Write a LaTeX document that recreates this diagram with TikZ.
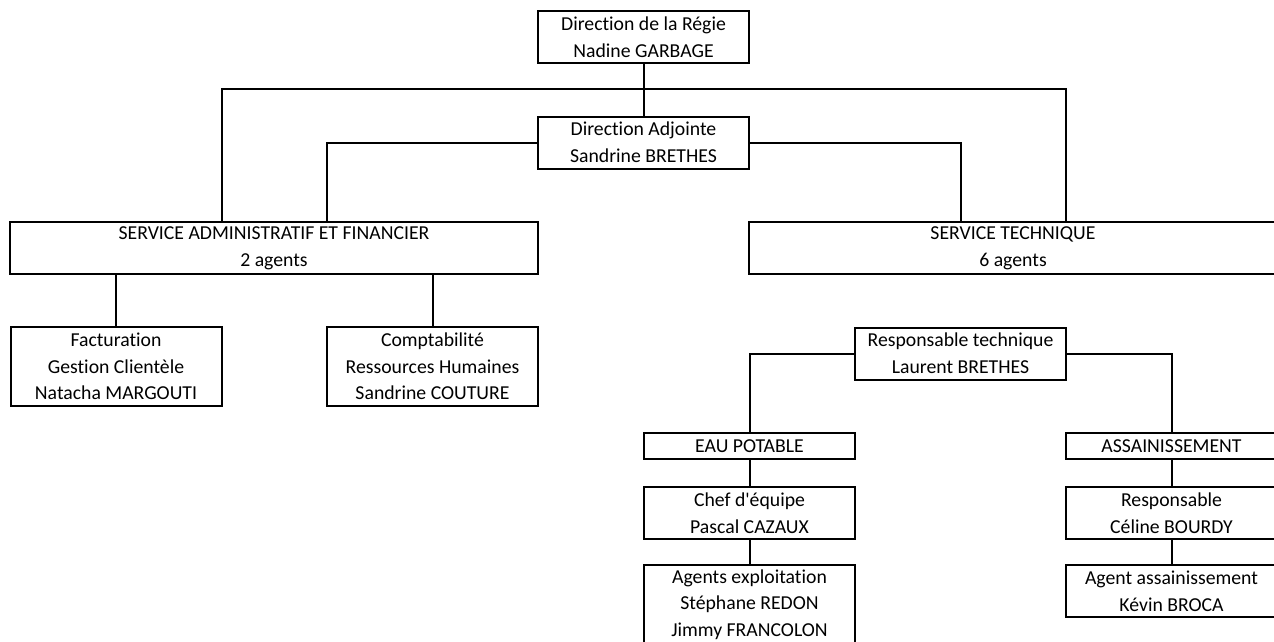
\documentclass[tikz,border=0pt]{standalone}
\usepackage{fontspec}
\setmainfont[Ligatures={NoCommon}]{Carlito}
\usetikzlibrary{arrows,positioning}
\tikzset{
    unit/.style={draw,line width=1.5pt,inner sep=0pt,align=center,font=\fontsize{14.8}{20}\selectfont,minimum width=158.25pt,minimum height=39pt},
    service/.style={unit,minimum width=396pt},
    tall/.style={unit,minimum height=59.5pt},
    thin/.style={unit,minimum height=19.5pt},
    link/.style={-,line width=1.5pt}
}

\begin{document}
\begin{tikzpicture}[x=0.75pt,y=-0.75pt]
                    \useasboundingbox (0,0) rectangle (1274,642);

                    \node[unit]    (regie)    at (643.5,37)    {Direction de la Régie\\Nadine GARBAGE};
                    \node[unit]    (adjointe) at (643.5,142.5) {Direction Adjointe\\Sandrine BRETHES};
                    \node[service] (saf)      at (274,248)     {SERVICE ADMINISTRATIF ET FINANCIER\\2 agents};
                    \node[service] (st)       at (1013,248)    {SERVICE TECHNIQUE\\6 agents};

                    \node[tall]    (factu)    at (116,366.5)   {Facturation\\Gestion Clientèle\\Natacha MARGOUTI};
                    \node[tall]    (compta)   at (432.5,366.5) {Comptabilité\\Ressources Humaines\\Sandrine COUTURE};

                    \node[unit]    (resptech) at (960.5,353.5) {Responsable technique\\Laurent BRETHES};

                    \node[thin]    (eau)      at (749.5,446)   {EAU POTABLE};
                    \node[unit]    (chef)     [below=19.5pt of eau]    {Chef d\textquotesingle équipe\\Pascal CAZAUX};
                    \node[tall]    (agents)   [below=18pt of chef]     {Agents exploitation\\Stéphane REDON\\Jimmy FRANCOLON};

                    \node[thin]    (assain)   at (1171.5,446)  {ASSAINISSEMENT};
                    \node[unit]    (resp)     [below=19.5pt of assain] {Responsable\\Céline BOURDY};
                    \node[unit]    (agentass) [below=18pt of resp]     {Agent assainissement\\Kévin BROCA};

                    \coordinate (busL) at (222,89.5);
                    \coordinate (busR) at (1066,89.5);
                    \coordinate (armL) at (327,0);
                    \coordinate (armR) at (961,0);

                    \draw[link] (regie) -- (adjointe);
                    \draw[link] (saf.north -| busL) |- (busR) -- (st.north -| busR);
                    \draw[link] (adjointe.west) -| (saf.north -| armL);
                    \draw[link] (adjointe.east) -| (st.north -| armR);
                    \draw[link] (saf.south -| factu.north) -- (factu.north);
                    \draw[link] (saf.south -| compta.north) -- (compta.north);
                    \draw[link] (resptech.west) -| (eau.north);
                    \draw[link] (resptech.east) -| (assain.north);
                    \draw[link] (eau) -- (chef);
                    \draw[link] (chef) -- (agents);
                    \draw[link] (assain) -- (resp);
                    \draw[link] (resp) -- (agentass);
                \end{tikzpicture}
\end{document}
